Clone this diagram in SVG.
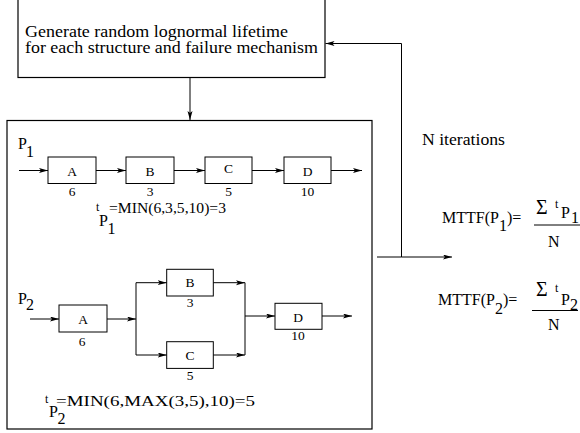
<svg xmlns="http://www.w3.org/2000/svg" width="580" height="433" viewBox="0 0 580 433" font-family="'Liberation Serif', 'Times New Roman', 'DejaVu Serif', serif">
<style>
  text { font-family: 'Liberation Serif', 'Times New Roman', 'DejaVu Serif', serif; fill: #000; }
  .box { fill: #fff; stroke: #000; stroke-width: 1; }
  .frame { fill: #fff; stroke: #000; stroke-width: 1.2; }
  .ln { fill: none; stroke: #000; stroke-width: 1; }
  .arr { fill: none; stroke: #000; stroke-width: 1; marker-end: url(#ah); }
  .lbl { font-size: 13.5px; text-anchor: middle; }
  .big { font-size: 16px; }
  .sig { font-size: 20px; }
  .f { font-size: 14px; }
  .sm { font-size: 12px; }
</style>
<defs>
  <marker id="ah" markerUnits="userSpaceOnUse" markerWidth="10" markerHeight="6" refX="9" refY="2.5" orient="auto">
    <path d="M0,0 L9,2.5 L0,5 L2,2.5 z" fill="#000"/>
  </marker>
</defs>
<rect width="580" height="433" fill="#fff"/>

<g id="generate">
  <rect class="frame" x="18" y="-5" width="307" height="82.5"/>
  <text class="big" x="25" y="36.5" textLength="263" lengthAdjust="spacingAndGlyphs">Generate random lognormal lifetime</text>
  <text class="big" x="25" y="52.5" textLength="293" lengthAdjust="spacingAndGlyphs">for each structure and failure mechanism</text>
</g>

<g id="simulation">
  <rect class="frame" x="7" y="120.5" width="365" height="308.5"/>
</g>

<g id="p1-label">
  <text class="big" x="18" y="148.5">P</text>
  <text class="big" x="26" y="156.5">1</text>
</g>
<g id="p1-A"><rect class="box" x="48" y="157" width="48" height="26.5"/><text class="lbl" x="72" y="175.5">A</text><text class="lbl" x="72" y="196">6</text></g>
<g id="p1-B"><rect class="box" x="126" y="157" width="48" height="26.5"/><text class="lbl" x="150" y="175.5">B</text><text class="lbl" x="150" y="196">3</text></g>
<g id="p1-C"><rect class="box" x="205" y="157" width="47" height="26.5"/><text class="lbl" x="228.5" y="173">C</text><text class="lbl" x="228.5" y="196">5</text></g>
<g id="p1-D"><rect class="box" x="284" y="157" width="47" height="26.5"/><text class="lbl" x="307.5" y="175.5">D</text><text class="lbl" x="307.5" y="196">10</text></g>
<g id="p1-formula">
  <text class="sm" x="96" y="211">t</text>
  <text class="big" x="99" y="225.5">P</text>
  <text class="big" x="107.5" y="234">1</text>
  <text class="f" x="109" y="213" textLength="117" lengthAdjust="spacingAndGlyphs">=MIN(6,3,5,10)=3</text>
</g>

<g id="p2-label">
  <text class="big" x="18" y="303.5">P</text>
  <text class="big" x="26" y="310">2</text>
</g>
<g id="p2-A"><rect class="box" x="59" y="305" width="48" height="27"/><text class="lbl" x="83" y="324">A</text><text class="lbl" x="82" y="346">6</text></g>
<g id="p2-B"><rect class="box" x="166.7" y="269.3" width="46.6" height="26.7"/><text class="lbl" x="190" y="287">B</text><text class="lbl" x="190" y="307">3</text></g>
<g id="p2-C"><rect class="box" x="166.7" y="341.7" width="46.6" height="26.7"/><text class="lbl" x="190" y="360">C</text><text class="lbl" x="190" y="380">5</text></g>
<g id="p2-D"><rect class="box" x="275" y="303.3" width="47" height="26"/><text class="lbl" x="298" y="321.5">D</text><text class="lbl" x="298" y="340">10</text></g>
<g id="p2-formula">
  <text class="sm" x="45" y="403">t</text>
  <text class="big" x="49" y="417">P</text>
  <text class="big" x="57.5" y="424">2</text>
  <text class="f" x="56" y="406" textLength="199" lengthAdjust="spacingAndGlyphs">=MIN(6,MAX(3,5),10)=5</text>
</g>

<g id="iterations-label">
  <text class="big" x="422" y="145" textLength="83" lengthAdjust="spacingAndGlyphs">N iterations</text>
</g>

<g id="mttf1">
  <text class="big" x="442" y="223">MTTF(P<tspan dy="8">1</tspan><tspan dy="-8">)=</tspan></text>
  <text class="sig" x="536" y="213.5">Σ</text>
  <text class="sm" x="555" y="208">t</text>
  <text class="big" x="561" y="218">P</text>
  <text class="big" x="571" y="223">1</text>
  <line class="ln" x1="534" y1="225" x2="580" y2="225"/>
  <text class="big" x="548" y="247">N</text>
</g>

<g id="mttf2">
  <text class="big" x="438" y="305">MTTF(P<tspan dy="9">2</tspan><tspan dy="-9">)=</tspan></text>
  <text class="sig" x="536" y="295.5">Σ</text>
  <text class="sm" x="555" y="292">t</text>
  <text class="big" x="561" y="305">P</text>
  <text class="big" x="570" y="309.5">2</text>
  <line class="ln" x1="532" y1="310.5" x2="578" y2="310.5"/>
  <text class="big" x="548" y="330">N</text>
</g>

<g id="connectors">
  <line class="arr" x1="190" y1="78" x2="190" y2="120"/>
  <polyline class="arr" points="377,257 401.5,257 452,257"/>
  <polyline class="arr" points="401.5,257 401.5,43.5 325.5,43.5"/>
  <line class="arr" x1="19" y1="170.5" x2="48" y2="170.5"/>
  <line class="arr" x1="96" y1="170.5" x2="126" y2="170.5"/>
  <line class="arr" x1="174" y1="170.5" x2="205" y2="170.5"/>
  <line class="arr" x1="252" y1="170.5" x2="284" y2="170.5"/>
  <line class="arr" x1="331" y1="170.5" x2="362" y2="170.5"/>
  <line class="arr" x1="30" y1="319" x2="59" y2="319"/>
  <line class="arr" x1="107" y1="319" x2="136" y2="319"/>
  <line class="ln" x1="136" y1="282.7" x2="136" y2="355"/>
  <line class="arr" x1="136" y1="282.7" x2="166.7" y2="282.7"/>
  <line class="arr" x1="136" y1="355" x2="166.7" y2="355"/>
  <line class="arr" x1="213.3" y1="282.7" x2="245" y2="282.7"/>
  <line class="arr" x1="213.3" y1="355" x2="245" y2="355"/>
  <line class="ln" x1="245" y1="282.7" x2="245" y2="355"/>
  <line class="arr" x1="245" y1="316" x2="275" y2="316"/>
  <line class="arr" x1="322" y1="316" x2="352" y2="316"/>
</g>
</svg>
